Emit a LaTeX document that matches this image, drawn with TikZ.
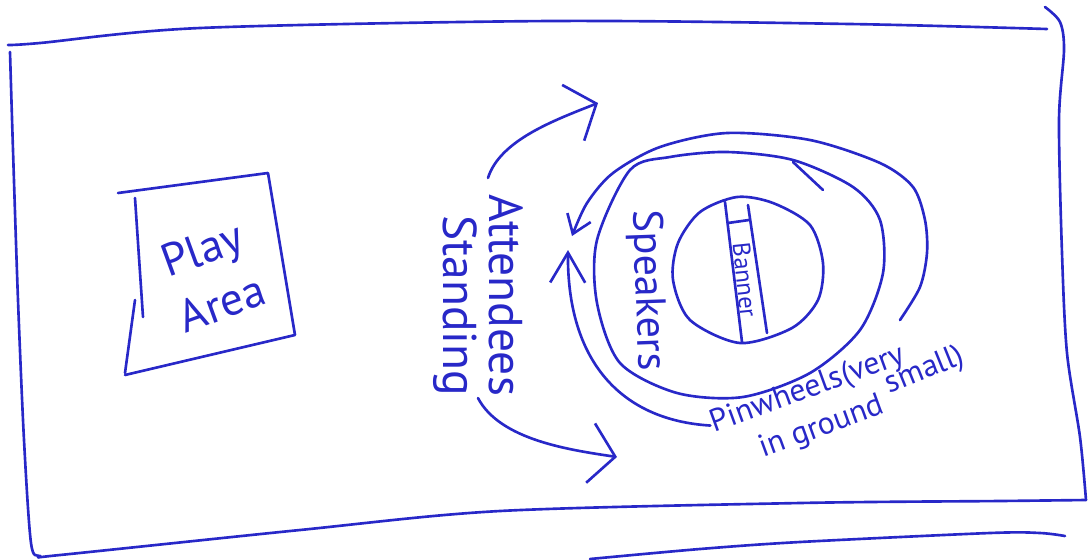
\documentclass[tikz,border=0pt]{standalone}
\usepackage{fontspec}
\setmainfont{PT Sans}
\usetikzlibrary{arrows.meta}

\definecolor{penblue}{RGB}{40,40,200}

\tikzset{
  pen/.style={draw=penblue, line width=1.5pt, line cap=round, line join=round},
  hand/.style={text=penblue, inner sep=1pt},
  bigbarb/.style={-{Straight Barb[length=5mm,width=12mm]}},
  smallbarb/.style={-{Straight Barb[length=3.5mm,width=5mm]}},
  narrowbarb/.style={-{Straight Barb[length=6mm,width=7mm]}},
}

\begin{document}
\begin{tikzpicture}[x=0.02cm, y=-0.02cm]
\useasboundingbox (0,0) rectangle (1090,559);

% Frame
\draw[pen] plot[smooth] coordinates {(8,45) (40,43) (200,28) (550,21) (850,24) (1047,29)};
\draw[pen] plot[smooth] coordinates {(10,52) (13,150) (18,300) (24,440) (31,543) (40,556) (60,555) (300,530) (500,511) (800,503) (1000,501) (1086,500)};
\draw[pen] plot[smooth] coordinates {(1045,7) (1060,22) (1064,50) (1059,120) (1062,253) (1067,353) (1080,437) (1086,500)};
\draw[pen] plot[smooth] coordinates {(590,559) (700,549) (800,542) (990,533) (1040,533) (1065,536)};

% Play area
\draw[pen] (118,193) -- (268,173) -- (295,335) -- (125,375);
\draw[pen] (135,198) -- (143,317);
\draw[pen] (135,300) -- (125,373);
\node[hand, font=\fontsize{26}{33}\selectfont, rotate=20, align=center] (play) at (212,276) {Play\\Area};

% Attendees standing
\node[hand, font=\fontsize{27}{26}\selectfont, rotate=-90, align=right] (att) at (478,295) {Attendees\\Standing};
\coordinate (upTip) at (598,103);
\coordinate (lowTip) at (617,457);
\draw[pen, bigbarb] ([shift={(10,-14)}]att.west) .. controls (500,140) and (555,120) .. (upTip);
\draw[pen, bigbarb] (att.east) .. controls (500,440) and (570,450) .. (lowTip);

% Speakers ring
\draw[pen] plot[smooth cycle] coordinates {(630,170) (597,240) (597,303) (620,363) (677,393) (743,397) (810,373) (860,330) (883,273) (880,220) (853,187) (793,160) (727,152) (670,157)};
\draw[pen] (793,162) -- (823,190);
\node[hand, font=\fontsize{24}{24}\selectfont, rotate=-88] (spk) at (647,290) {Speakers};

% Outer ring
\draw[pen, smallbarb] plot[smooth] coordinates {(900,320) (920,287) (927,253) (925,220) (913,187) (880,163) (810,140) (727,133) (660,147) (613,173) (587,203) (572,236)};

% Banner circle
\draw[pen] plot[smooth cycle] coordinates {(737,197) (700,212) (678,243) (673,280) (690,320) (740,343) (792,328) (818,300) (823,263) (810,225) (773,203)};
\draw[pen] (725,202) -- (742,342);
\draw[pen] (748,205) -- (767,333);
\draw[pen] (728,223) -- (749,220);
\node[hand, font=\fontsize{14}{14}\selectfont, rotate=-84] (ban) at (745,280) {Banner};

% Pinwheels
\node[hand, font=\fontsize{18}{18}\selectfont, rotate=20] (pinw) at (808,390) {Pinwheels(very};
\node[hand, font=\fontsize{18}{18}\selectfont, rotate=22] (small) at (925,371) {small)};
\node[hand, font=\fontsize{18}{18}\selectfont, rotate=20] (ground) at (822,428) {in ground};
\coordinate (pinTip) at (568,250);
\draw[pen, narrowbarb] (pinw.west) .. controls (620,420) and (567,360) .. (pinTip);

\end{tikzpicture}
\end{document}
